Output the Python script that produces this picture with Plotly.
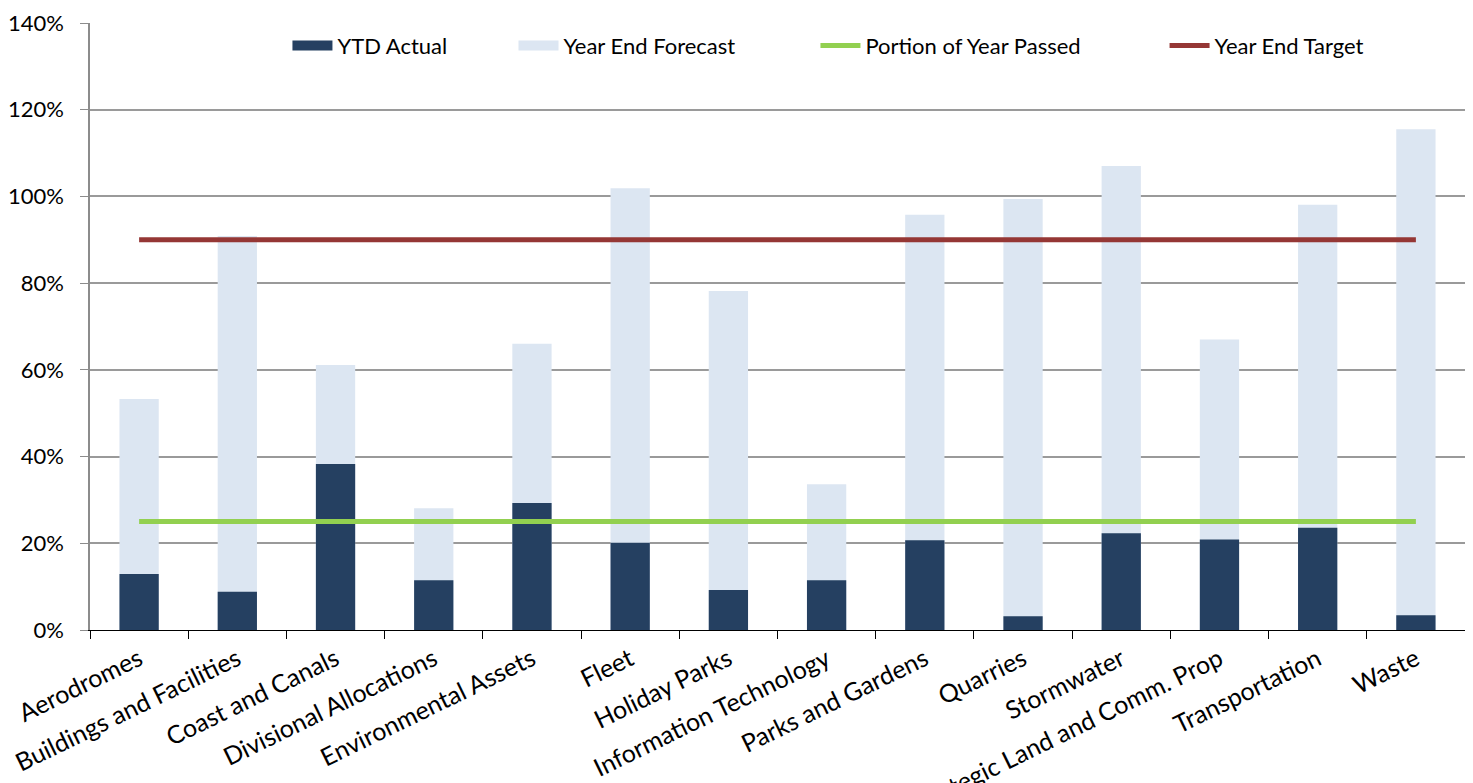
import plotly.graph_objects as go

categories = ["Aerodromes", "Buildings and Facilities", "Coast and Canals",
              "Divisional Allocations", "Environmental Assets", "Fleet",
              "Holiday Parks", "Information Technology", "Parks and Gardens",
              "Quarries", "Stormwater", "Strategic Land and Comm. Prop",
              "Transportation", "Waste"]
ytd_actual = [12.9, 8.8, 38.3, 11.5, 29.3, 20.1, 9.2, 11.5, 20.7, 3.2, 22.3, 20.9, 23.6, 3.4]
year_end_forecast = [53.3, 90.9, 61.1, 28.1, 66.0, 101.9, 78.2, 33.6, 95.8, 99.4, 107.0, 67.0, 98.1, 115.5]
portion_of_year_passed = [25] * len(categories)
year_end_target = [90] * len(categories)
y_ticks = [0, 20, 40, 60, 80, 100, 120, 140]

font_family = "Lato, 'Open Sans', sans-serif"
FS = 22
C_ACT, C_FC, C_PORT, C_TGT = "#254061", "#dce6f2", "#92d050", "#953735"

fig = go.Figure()
fig.add_trace(go.Bar(x=categories, y=year_end_forecast, name="Year End Forecast",
                     marker=dict(color=C_FC, line=dict(width=0)), width=0.4,
                     showlegend=False))
fig.add_trace(go.Bar(x=categories, y=ytd_actual, name="YTD Actual",
                     marker=dict(color=C_ACT, line=dict(width=0)), width=0.4,
                     showlegend=False))
fig.add_trace(go.Scatter(x=categories, y=portion_of_year_passed, mode="lines",
                         name="Portion of Year Passed", line=dict(color=C_PORT, width=5),
                         legend="legend3"))
fig.add_trace(go.Scatter(x=categories, y=year_end_target, mode="lines",
                         name="Year End Target", line=dict(color=C_TGT, width=5),
                         legend="legend4"))
# legend swatches for the bar series (rectangular, as in the original)
fig.add_trace(go.Scatter(x=[None], y=[None], mode="lines", name="YTD Actual",
                         line=dict(color=C_ACT, width=16), legend="legend",
                         hoverinfo="skip"))
fig.add_trace(go.Scatter(x=[None], y=[None], mode="lines", name="Year End Forecast",
                         line=dict(color=C_FC, width=16), legend="legend2",
                         hoverinfo="skip"))

leg_common = dict(orientation="h", y=0.997, yanchor="top", xanchor="left",
                  bgcolor="rgba(0,0,0,0)", font=dict(size=FS), itemwidth=40)
fig.update_layout(
    width=1473, height=783,
    barmode="overlay",
    plot_bgcolor="white", paper_bgcolor="white",
    margin=dict(l=82, r=16, t=15, b=161),
    font=dict(family=font_family, size=FS, color="#000000"),
    showlegend=True,
    legend=dict(x=0.1436, **leg_common),
    legend2=dict(x=0.3080, **leg_common),
    legend3=dict(x=0.5276, **leg_common),
    legend4=dict(x=0.7815, **leg_common),
)

fig.update_xaxes(
    type="category", tickangle=-26, tickson="boundaries",
    ticks="outside", ticklen=8, tickcolor="#000000", tickwidth=1.2,
    showline=True, linecolor="#000000", linewidth=1.2,
    showgrid=False, tickfont=dict(size=25), automargin=False,
    ticklabelstandoff=4,
)
fig.update_yaxes(
    range=[0, 140], tickvals=y_ticks, ticktext=[f"{v}%" for v in y_ticks],
    ticks="outside", ticklen=8, tickcolor="#8c8c8c",
    showline=True, linecolor="#8c8c8c", linewidth=1.5,
    showgrid=True, gridcolor="#9a9a9a", gridwidth=1.5,
    zeroline=False, tickfont=dict(size=FS), automargin=False,
    ticklabelstandoff=12,
)

fig.write_html("out.html")
